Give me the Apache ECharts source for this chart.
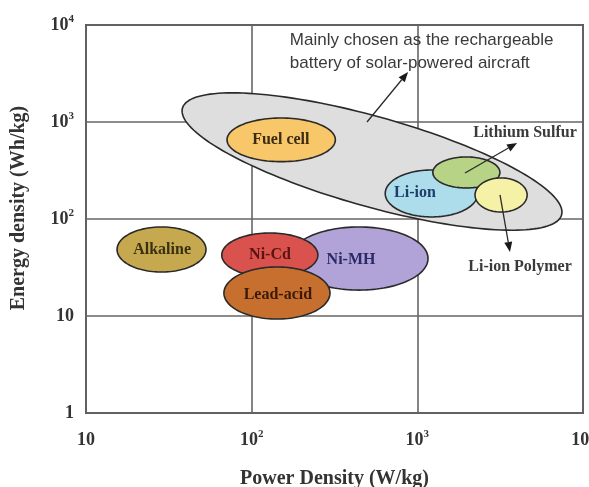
<!DOCTYPE html>
<html>
<head>
<meta charset="utf-8">
<script src="https://cdn.jsdelivr.net/npm/echarts@6/dist/echarts.min.js"></script>
<style>
html,body{margin:0;padding:0;background:#fff;}
#chart{width:589px;height:487px;}
</style>
</head>
<body>
<div id="chart"></div>
<script>
// Axis ticks (log10 exponents) and their labels
const xTickLabels = {1: ['10', ''], 2: ['10', '2'], 3: ['10', '3'], 4: ['10', '4']};
const yTickLabels = {0: ['1', ''], 1: ['10', ''], 2: ['10', '2'], 3: ['10', '3'], 4: ['10', '4']};

// Technologies: power density range (W/kg) and energy density range (Wh/kg)
const techNames  = ['Fuel cell', 'Li-ion', 'Lithium Sulfur', 'Li-ion Polymer', 'Alkaline', 'Ni-MH', 'Ni-Cd', 'Lead-acid'];
const powerMin   = [71,   640,  1240, 2230, 15.4, 170,  66,   68];
const powerMax   = [320,  2320, 3150, 4600, 53,   1160, 251,  297];
const energyMin  = [390,  105,  209,  118,  28.4, 18.5, 25.2, 9.3];
const energyMax  = [1100, 320,  436,  265,  82.8, 82.8, 71.8, 32];
const labelText  = ['Fuel cell', 'Li-ion', '', '', 'Alkaline', 'Ni-MH', 'Ni-Cd', 'Lead-acid'];
const labelPower = [150, 968, null, null, 28.8, 398, 129, 144];
const labelEnergy= [651, 185, null, null, 47.9, 37.8, 42.5, 16.5];

// Envelope of batteries chosen for solar-powered aircraft:
// leftmost and rightmost points, and vertical half-thickness at its centre (decades of energy density)
const envelopePower  = [38, 7465];
const envelopeEnergy = [1297, 118];
const envelopeHalfDecades = 0.48;

// Arrows
const arrowFromPower  = [497, 1940, 3155];
const arrowFromEnergy = [1000, 298, 177];
const arrowToPower    = [879, 4000, 3624];
const arrowToEnergy   = [3273, 608, 45.7];

// Annotations
const noteText   = ['Mainly chosen as the rechargeable\nbattery of solar-powered aircraft', 'Lithium Sulfur', 'Li-ion Polymer'];
const notePower  = [170, 4466, 4169];
const noteEnergy = [5333, 771, 32];

// Styles
const fillColors = ['#F7C76A', '#ADDCEB', '#B7D386', '#F5F2A8', '#C6A84F', '#B1A3D7', '#D9524D', '#C76F2F'];
const textColors = ['#3a2c10', '#1f3e6e', '#333', '#333', '#3a3010', '#2b2a66', '#5a1414', '#3a1a06'];
const noteAlign  = ['left', 'center', 'center'];
const noteFont   = ['17px "Liberation Sans", Arial, sans-serif', 'bold 16px "Liberation Serif", serif', 'bold 16px "Liberation Serif", serif'];
const noteColor  = ['#3a3a3a', '#3a3a3a', '#3a3a3a'];

const serif = '"Liberation Serif", "Times New Roman", serif';

function ellipsePoints(cx, cy, rx, ry, ang) {
  const pts = [];
  const n = 120;
  for (let k = 0; k < n; k++) {
    const t = k / n * Math.PI * 2;
    const u = rx * Math.cos(t), v = ry * Math.sin(t);
    pts.push([cx + u * Math.cos(ang) - v * Math.sin(ang), cy + u * Math.sin(ang) + v * Math.cos(ang)]);
  }
  return pts;
}

function tickFormatter(map) {
  return function (v) {
    const e = Math.round(Math.log10(v));
    const lab = map[e];
    if (!lab) return '';
    return lab[1] ? '{b|' + lab[0] + '}{s|' + lab[1] + '}' : '{b|' + lab[0] + '}';
  };
}
const richLabel = {
  b: {fontFamily: serif, fontWeight: 'bold', fontSize: 18, color: '#333', lineHeight: 22},
  s: {fontFamily: serif, fontWeight: 'bold', fontSize: 11, color: '#333', lineHeight: 10, verticalAlign: 'top'}
};

const chart = echarts.init(document.getElementById('chart'), null, {renderer: 'canvas'});

const option = {
  animation: false,
  backgroundColor: '#fff',
  grid: {left: 86, right: 6, top: 25, bottom: 74, outerBoundsMode: 'none', show: true, borderColor: '#555', borderWidth: 2, backgroundColor: 'transparent'},
  xAxis: {
    type: 'log', logBase: 10, min: 10, max: 10000,
    name: 'Power Density (W/kg)', nameLocation: 'middle', nameGap: 56,
    nameTextStyle: {fontFamily: serif, fontWeight: 'bold', fontSize: 20, color: '#333'},
    axisLine: {show: false}, axisTick: {show: false}, minorTick: {show: false},
    splitLine: {show: true, lineStyle: {color: '#666', width: 1.6}},
    axisLabel: {margin: 16, formatter: tickFormatter(xTickLabels), rich: richLabel, showMinLabel: true, showMaxLabel: true}
  },
  yAxis: {
    type: 'log', logBase: 10, min: 1, max: 10000,
    name: 'Energy density (Wh/kg)', nameLocation: 'middle', nameGap: 57,
    nameTextStyle: {fontFamily: serif, fontWeight: 'bold', fontSize: 20, color: '#333', padding: [0, 0, 0, 22]},
    axisLine: {show: false}, axisTick: {show: false}, minorTick: {show: false},
    splitLine: {show: true, lineStyle: {color: '#666', width: 1.6}},
    axisLabel: {margin: 12, formatter: tickFormatter(yTickLabels), rich: richLabel, showMinLabel: true, showMaxLabel: true}
  },
  series: [
    {
      type: 'custom', name: 'envelope',
      data: [[envelopePower[0], envelopeEnergy[0], envelopePower[1], envelopeEnergy[1]]],
      encode: {x: [0, 2], y: [1, 3]},
      renderItem: function (params, api) {
        const p1 = api.coord([api.value(0), api.value(1)]);
        const p2 = api.coord([api.value(2), api.value(3)]);
        const cx = (p1[0] + p2[0]) / 2, cy = (p1[1] + p2[1]) / 2;
        const ux = (p2[0] - p1[0]) / 2, uy = (p2[1] - p1[1]) / 2;
        const h = api.coord([10, 1])[1] - api.coord([10, Math.pow(10, envelopeHalfDecades)])[1];
        const pts = [];
        const n = 160;
        for (let k = 0; k < n; k++) {
          const t = k / n * Math.PI * 2;
          pts.push([cx + ux * Math.cos(t), cy + uy * Math.cos(t) + h * Math.sin(t)]);
        }
        return {
          type: 'polygon',
          shape: {points: pts},
          style: {fill: '#DEDEDE', stroke: '#2a2a2a', lineWidth: 1.6}
        };
      }
    },
    {
      type: 'custom', name: 'technologies',
      data: techNames.map((n, i) => [powerMin[i], energyMin[i], powerMax[i], energyMax[i]]),
      encode: {x: [0, 2], y: [1, 3]},
      renderItem: function (params, api) {
        const i = params.dataIndex;
        const p1 = api.coord([api.value(0), api.value(1)]);
        const p2 = api.coord([api.value(2), api.value(3)]);
        const cx = (p1[0] + p2[0]) / 2, cy = (p1[1] + p2[1]) / 2;
        const rx = Math.abs(p2[0] - p1[0]) / 2, ry = Math.abs(p2[1] - p1[1]) / 2;
        const children = [{
          type: 'polygon',
          shape: {points: ellipsePoints(cx, cy, rx, ry, 0)},
          style: {fill: fillColors[i], stroke: '#2a2a2a', lineWidth: 1.6}
        }];
        if (labelText[i]) {
          const lp = api.coord([labelPower[i], labelEnergy[i]]);
          children.push({
            type: 'text', x: lp[0], y: lp[1],
            style: {text: labelText[i], fill: textColors[i], font: 'bold 16px ' + serif, align: 'center', verticalAlign: 'middle'}
          });
        }
        return {type: 'group', children: children};
      }
    },
    {
      type: 'custom', name: 'arrows',
      data: arrowFromPower.map((v, i) => [arrowFromPower[i], arrowFromEnergy[i], arrowToPower[i], arrowToEnergy[i]]),
      encode: {x: [0, 2], y: [1, 3]},
      renderItem: function (params, api) {
        const p1 = api.coord([api.value(0), api.value(1)]);
        const p2 = api.coord([api.value(2), api.value(3)]);
        const dx = p2[0] - p1[0], dy = p2[1] - p1[1];
        const len = Math.sqrt(dx * dx + dy * dy);
        const ux = dx / len, uy = dy / len;
        const hl = 10, hw = 4;
        const base = [p2[0] - ux * hl, p2[1] - uy * hl];
        return {
          type: 'group',
          children: [
            {type: 'line', shape: {x1: p1[0], y1: p1[1], x2: base[0], y2: base[1]}, style: {stroke: '#2a2a2a', lineWidth: 1.3}},
            {type: 'polygon', shape: {points: [p2, [base[0] - uy * hw, base[1] + ux * hw], [base[0] + uy * hw, base[1] - ux * hw]]}, style: {fill: '#1a1a1a'}}
          ]
        };
      }
    },
    {
      type: 'custom', name: 'notes',
      data: noteText.map((t, i) => [notePower[i], noteEnergy[i]]),
      encode: {x: 0, y: 1},
      renderItem: function (params, api) {
        const i = params.dataIndex;
        const p = api.coord([api.value(0), api.value(1)]);
        return {
          type: 'text', x: p[0], y: p[1],
          style: {text: noteText[i], fill: noteColor[i], font: noteFont[i], align: noteAlign[i], verticalAlign: 'middle', lineHeight: 23}
        };
      }
    }
  ]
};
chart.setOption(option);
</script>
</body>
</html>
